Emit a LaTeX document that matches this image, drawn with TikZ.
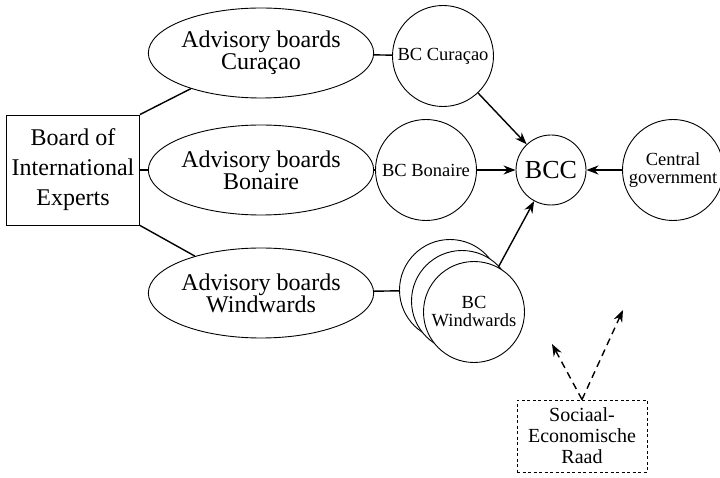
\documentclass[tikz,border=0pt]{standalone}
\usepackage{fontspec}
\setmainfont{LiberationSerif}[Extension=.ttf,UprightFont=*-Regular,BoldFont=*-Bold]
\usetikzlibrary{shapes.geometric,arrows.meta}

\begin{document}
\begin{tikzpicture}
[x=1pt,y=-1pt,
board/.style={rectangle,draw=black,line width=0.9pt,minimum width=133pt,minimum height=110pt,inner sep=0pt,align=center,font=\fontsize{24}{30}\selectfont},
adv/.style={ellipse,draw=black,line width=0.9pt,minimum width=182pt,minimum height=90pt,inner sep=0pt,align=center,font=\fontsize{24}{22}\selectfont},
bc/.style={circle,draw=black,fill=white,line width=0.9pt,minimum size=101pt,inner sep=0pt,align=center,font=\fontsize{18.5}{18}\selectfont},
bcc/.style={circle,draw=black,line width=0.9pt,minimum size=70pt,inner sep=0pt,font=\fontsize{26}{26}\selectfont},
ser/.style={rectangle,draw=black,line width=0.9pt,dash pattern=on 3pt off 2.5pt,minimum width=130pt,minimum height=72pt,inner sep=0pt,align=center,font=\fontsize{20}{21}\selectfont},
link/.style={line width=1.4pt},
arr/.style={-{Stealth[length=12pt,width=9pt]},line width=1.4pt},
sera/.style={arr,dash pattern=on 7pt off 5pt}]
\useasboundingbox (0,0) rectangle (720,478);

\node at (73,170)  [board] (board) {Board of\\International\\Experts};

\node at (261,53)  [adv] (cadv) {Advisory boards\\Curaçao};
\node at (261,170) [adv] (badv) {Advisory boards\\Bonaire};
\node at (261,293) [adv] (wadv) {Advisory boards\\Windwards};

\node at (443,56)  [bc] (bccur) {BC Curaçao};
\node at (426,170) [bc] (bcbon) {BC Bonaire};
\node at (450,290) [bc] (bcw1) {};
\node at (462,301) [bc] (bcw2) {};
\node at (474,312) [bc] (bcw3) {BC\\Windwards};

\node at (551,170) [bcc] (bcc) {BCC};
\node at (673,170) [bc] (cgov) {Central\\government};

\node at (582,436) [ser] (serad) {Sociaal-\\Economische\\Raad};
\coordinate (serl) at (552,344);
\coordinate (serr) at (623,310);

\draw [link] (board.north east) -- (cadv);
\draw [link] (board) -- (badv);
\draw [link] (board.south east) -- (wadv);
\draw [link] (cadv) -- (bccur);
\draw [link] (badv) -- (bcbon);
\draw [link] (wadv) -- (bcw1);

\draw [arr] (bccur) -- (bcc);
\draw [arr] (bcbon) -- (bcc);
\draw [arr] (bcw3) -- (bcc);
\draw [arr] (cgov) -- (bcc);

\draw [sera] (serad.north) -- (serl);
\draw [sera] (serad.north) -- (serr);
\end{tikzpicture}
\end{document}
